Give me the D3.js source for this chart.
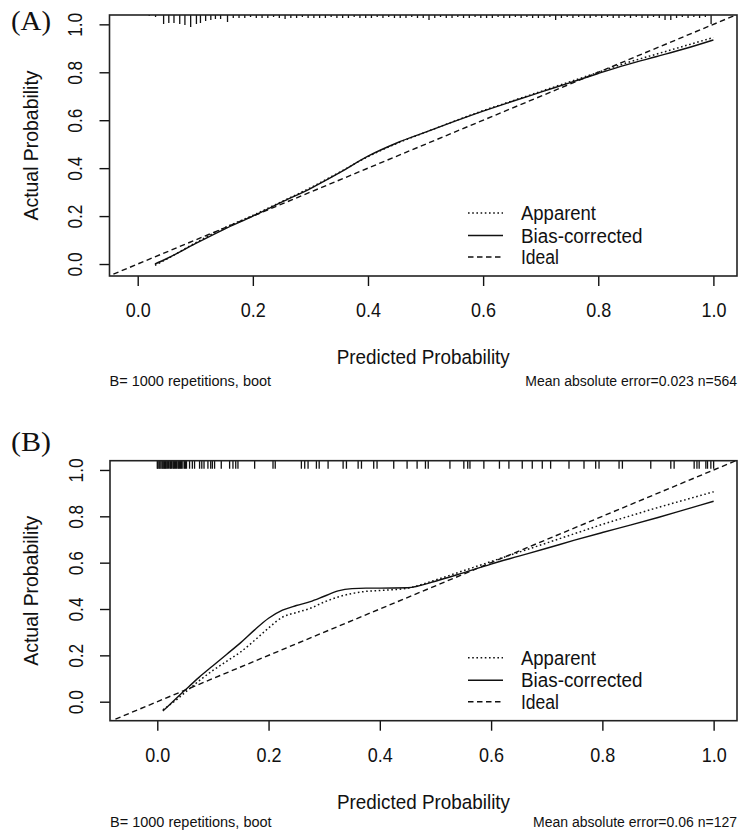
<!DOCTYPE html>
<html><head><meta charset="utf-8">
<script src="https://cdn.jsdelivr.net/npm/d3@7"></script>
<style>body{margin:0;background:#fff} svg{display:block}</style>
</head><body>
<svg id="chart" width="748" height="834"></svg>
<script>
// ---------- data ----------
const xTickValues = [0, 0.2, 0.4, 0.6, 0.8, 1.0];
const yTickValues = [0, 0.2, 0.4, 0.6, 0.8, 1.0];
const legendLabels = ["Apparent", "Bias-corrected", "Ideal"];
const panelLabels = ["(A)", "(B)"];
const xAxisTitle = "Predicted Probability";
const yAxisTitle = "Actual Probability";
const footLeft = ["B= 1000 repetitions, boot", "B= 1000 repetitions, boot"];
const footRight = ["Mean absolute error=0.023 n=564", "Mean absolute error=0.06 n=127"];

// Panel A
const calA_x        = [0.03,0.05,0.10,0.15,0.20,0.25,0.30,0.35,0.40,0.45,0.50,0.55,0.60,0.65,0.70,0.75,0.80,0.85,0.90,0.95,1.00];
const calA_apparent = [-0.005,0.020,0.088,0.150,0.203,0.260,0.318,0.382,0.448,0.503,0.550,0.596,0.640,0.680,0.720,0.760,0.800,0.840,0.875,0.910,0.945];
const calA_bias     = [0.000,0.022,0.085,0.145,0.200,0.258,0.315,0.380,0.450,0.505,0.550,0.595,0.638,0.678,0.717,0.756,0.795,0.832,0.865,0.898,0.935];
const rugA_x = [0.020,0.031,0.045,0.054,0.063,0.073,0.082,0.092,0.102,0.109,0.118,0.127,0.135,0.144,0.156,
  0.166,0.176,0.186,0.196,0.206,0.216,0.226,0.236,0.246,0.256,
  0.266,0.276,0.286,0.296,0.306,0.316,0.326,0.336,0.346,0.356,
  0.366,0.376,0.386,0.396,0.406,0.416,0.426,0.436,0.446,0.456,
  0.466,0.476,0.486,0.496,0.506,0.516,0.526,0.536,0.546,0.556,
  0.566,0.576,0.586,0.596,0.606,0.616,0.626,0.636,0.646,0.656,
  0.666,0.676,0.686,0.696,0.706,0.716,0.726,0.736,0.746,0.756,
  0.766,0.776,0.786,0.796,0.806,0.816,0.826,0.836,0.846,0.856,
  0.866,0.876,0.886,0.896,0.906,0.916,0.926,0.936,0.946,0.956,
  0.966,0.976,0.986,0.996];
const rugA_len = [1,2,9,8,8,9,10,12,9,8,6,5,4,4,7,
  3,3,3,2,3,3,3,2,3,4,
  3,3,2,3,3,3,3,2,3,3,
  3,2,3,3,3,2,3,2,3,3,
  3,2,3,3,5,3,2,3,3,2,
  3,3,2,3,3,3,2,3,3,2,
  3,2,3,3,3,2,5,3,2,3,
  2,3,3,2,3,2,3,3,2,3,
  2,3,3,2,3,5,5,3,2,3,
  2,3,2,9];

// Panel B
const calB_x        = [0.01,0.03,0.05,0.075,0.10,0.125,0.15,0.175,0.20,0.225,0.25,0.275,0.30,0.325,0.35,0.375,0.40,0.45,0.50,0.55,0.60,0.65,0.70,0.75,0.80,0.85,0.90,0.95,1.00];
const calB_apparent = [-0.035,0.000,0.040,0.090,0.135,0.175,0.215,0.265,0.318,0.365,0.385,0.403,0.430,0.452,0.467,0.476,0.480,0.490,0.525,0.565,0.605,0.645,0.685,0.725,0.765,0.802,0.838,0.872,0.906];
const calB_bias     = [-0.040,0.005,0.050,0.105,0.155,0.205,0.255,0.310,0.360,0.395,0.415,0.432,0.455,0.478,0.488,0.490,0.490,0.492,0.520,0.556,0.594,0.628,0.662,0.697,0.730,0.762,0.795,0.830,0.865];
const rugB_x = [0.000,0.001,0.003,0.0045,0.0065,0.0086,0.010,0.0117,0.013,0.0147,0.016,0.018,0.020,0.0225,0.024,0.0255,0.028,0.0295,0.031,0.033,0.0345,0.037,0.0385,0.040,0.042,0.0435,0.046,0.049,0.0505,0.0525,
  0.058,0.063,0.067,0.076,0.080,0.084,0.091,0.096,0.099,0.103,0.115,0.130,0.136,0.141,0.145,0.175,0.208,0.212,
  0.259,0.265,0.271,0.286,0.291,0.307,0.334,0.340,0.361,0.367,
  0.389,0.395,0.425,0.449,0.467,0.482,0.487,0.526,0.551,0.558,0.562,0.587,0.615,0.632,0.656,0.674,0.692,0.707,
  0.740,0.767,0.788,0.794,0.830,0.836,0.887,0.923,0.929,0.965,0.970,0.974,0.986,0.989,0.995,1.000];

// measured text widths in the reference (px)
const textWidths = {tick: 25, ytick: 24, xTitle: 173, yTitle: 150,
  "Apparent": 75, "Bias-corrected": 121.5, "Ideal": 38, panel: 40};

// ---------- layout ----------
const panels = [
  {label: panelLabels[0], left: 109.5, right: 737, top: 15, bottom: 276,
   xDomain: [-0.049, 1.041], yDomain: [-0.05, 1.039],
   cx: calA_x, app: calA_apparent, bias: calA_bias, rugX: rugA_x, rugLen: rugA_len,
   foot: [footLeft[0], footRight[0]], labelY: 30, footOff: 110},
  {label: panelLabels[1], left: 110, right: 737, top: 460.7, bottom: 720.7,
   xDomain: [-0.085, 1.042], yDomain: [-0.082, 1.040],
   cx: calB_x, app: calB_apparent, bias: calB_bias, rugX: rugB_x, rugLen: null,
   foot: [footLeft[1], footRight[1]], labelY: 451, footOff: 106.5}
];

const svg = d3.select("#chart");
const FONT = "'Liberation Sans', Arial, sans-serif";
const INK = "#111";
const fit = (sel, w) => sel.attr("textLength", w).attr("lengthAdjust", "spacingAndGlyphs");

panels.forEach((p, pi) => {
  const x = d3.scaleLinear().domain(p.xDomain).range([p.left, p.right]);
  const y = d3.scaleLinear().domain(p.yDomain).range([p.bottom, p.top]);
  const g = svg.append("g");
  const clipId = "clip" + pi;
  svg.append("defs").append("clipPath").attr("id", clipId)
    .append("rect").attr("x", p.left).attr("y", p.top)
    .attr("width", p.right - p.left).attr("height", p.bottom - p.top);

  // panel label
  fit(g.append("text").attr("x", 11).attr("y", p.labelY)
    .attr("font-family", "'Liberation Serif', 'Times New Roman', serif")
    .attr("font-size", 28).attr("fill", INK).text(p.label), textWidths.panel);

  // x axis
  const xa = g.append("g").attr("transform", `translate(0,${p.bottom})`)
    .call(d3.axisBottom(x).tickValues(xTickValues).tickSize(10).tickFormat(d3.format(".1f")));
  xa.select(".domain").remove();
  xa.selectAll("line").attr("stroke", INK).attr("stroke-width", 1.4);
  fit(xa.selectAll("text").attr("dy", null).attr("y", 41)
    .attr("font-family", FONT).attr("font-size", 20.5).attr("fill", INK), textWidths.tick);

  // y axis
  const ya = g.append("g").attr("transform", `translate(${p.left},0)`)
    .call(d3.axisLeft(y).tickValues(yTickValues).tickSize(10).tickFormat(d3.format(".1f")));
  ya.select(".domain").remove();
  ya.selectAll("line").attr("stroke", INK).attr("stroke-width", 1.4);
  fit(ya.selectAll("text").attr("dy", null).attr("x", null).attr("y", null)
    .attr("transform", "translate(-27.5,0) rotate(-90)")
    .attr("text-anchor", "middle")
    .attr("font-family", FONT).attr("font-size", 20).attr("fill", INK), textWidths.ytick);

  // axis titles
  fit(g.append("text").attr("x", (p.left + p.right) / 2).attr("y", p.bottom + 88)
    .attr("text-anchor", "middle").attr("font-family", FONT).attr("font-size", 20.5)
    .attr("fill", INK).text(xAxisTitle), textWidths.xTitle);
  fit(g.append("text").attr("transform", `translate(38,${(p.top + p.bottom) / 2}) rotate(-90)`)
    .attr("text-anchor", "middle").attr("font-family", FONT).attr("font-size", 20.5)
    .attr("fill", INK).text(yAxisTitle), textWidths.yTitle);

  // footnotes
  g.append("text").attr("x", p.left).attr("y", p.bottom + p.footOff)
    .attr("font-family", FONT).attr("font-size", 14.5).attr("fill", INK).text(p.foot[0]);
  g.append("text").attr("x", p.right).attr("y", p.bottom + p.footOff).attr("text-anchor", "end")
    .attr("font-family", FONT).attr("font-size", 14).attr("fill", INK).text(p.foot[1]);

  const plot = g.append("g").attr("clip-path", `url(#${clipId})`);

  // ideal line
  const lo = Math.min(p.xDomain[0], p.yDomain[0]) - 0.05, hi = Math.max(p.xDomain[1], p.yDomain[1]) + 0.05;
  plot.append("line").attr("x1", x(lo)).attr("y1", y(lo)).attr("x2", x(hi)).attr("y2", y(hi))
    .attr("stroke", INK).attr("stroke-width", 1.4).attr("stroke-dasharray", "5.5,3.5");

  const line = (vals) => d3.line().curve(d3.curveMonotoneX)
    .x((d, i) => x(p.cx[i])).y((d) => y(d))(vals);

  plot.append("path").attr("d", line(p.app)).attr("fill", "none")
    .attr("stroke", INK).attr("stroke-width", 1.5).attr("stroke-dasharray", "1.6,2.6");
  plot.append("path").attr("d", line(p.bias)).attr("fill", "none")
    .attr("stroke", INK).attr("stroke-width", 1.4);

  // rug
  plot.selectAll(".rug").data(p.rugX).enter().append("line")
    .attr("x1", d => x(d)).attr("x2", d => x(d))
    .attr("y1", p.top).attr("y2", (d, i) => p.top + (p.rugLen ? p.rugLen[i] : 8))
    .attr("stroke", INK).attr("stroke-width", 1.3);

  // box
  g.append("rect").attr("x", p.left).attr("y", p.top)
    .attr("width", p.right - p.left).attr("height", p.bottom - p.top)
    .attr("fill", "none").attr("stroke", "#222").attr("stroke-width", 1.6);

  // legend
  const lx0 = 468, lx1 = 503, tx = 521;
  const rowY = [p.bottom - 63, p.bottom - 40.5, p.bottom - 19];
  const dashes = ["1.6,2.6", null, "5.5,3.5"];
  legendLabels.forEach((lab, i) => {
    g.append("line").attr("x1", lx0).attr("x2", lx1).attr("y1", rowY[i]).attr("y2", rowY[i])
      .attr("stroke", INK).attr("stroke-width", 1.4)
      .attr("stroke-dasharray", dashes[i]);
    fit(g.append("text").attr("x", tx).attr("y", rowY[i] + 7)
      .attr("font-family", FONT).attr("font-size", 20).attr("fill", INK).text(lab), textWidths[lab]);
  });
});
</script>
</body></html>
